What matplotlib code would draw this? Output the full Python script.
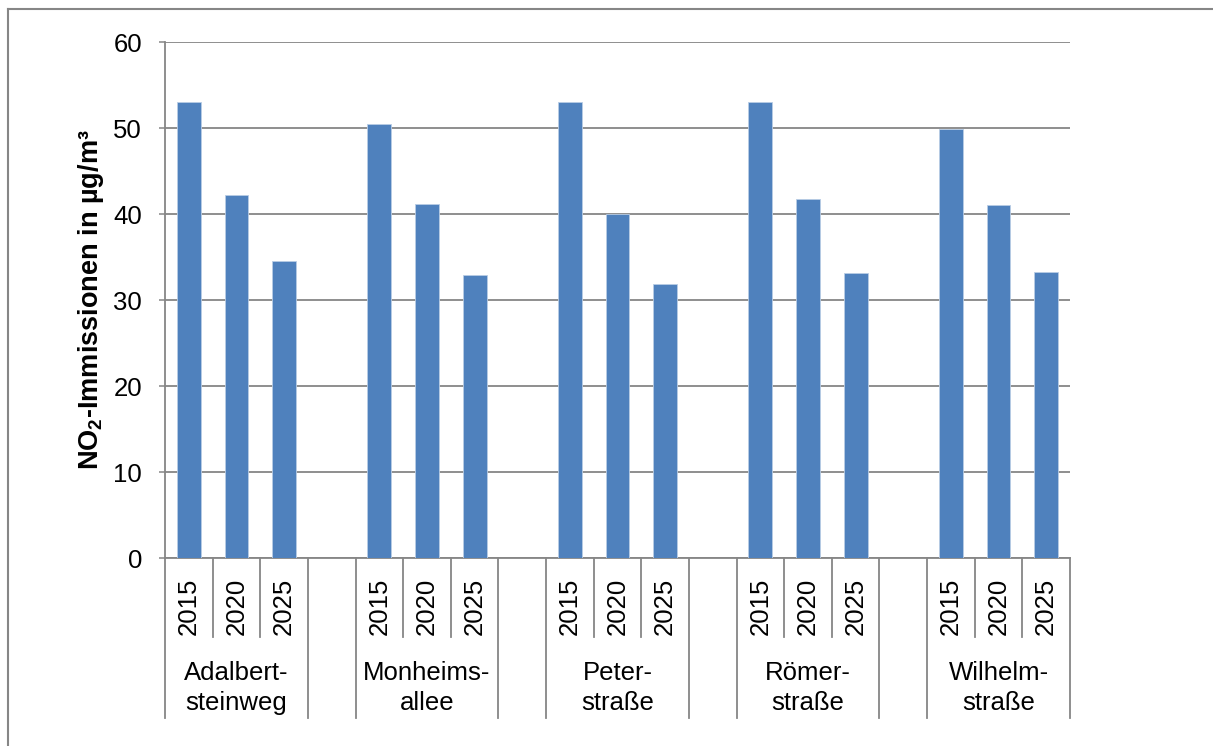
import matplotlib
matplotlib.use('Agg')
import matplotlib.pyplot as plt
import matplotlib.transforms as mtransforms
from matplotlib.lines import Line2D

plt.rcParams['font.family'] = ['Liberation Sans', 'DejaVu Sans']
plt.rcParams['mathtext.fontset'] = 'custom'
plt.rcParams['mathtext.rm'] = 'Liberation Sans'
plt.rcParams['mathtext.bf'] = 'Liberation Sans:bold'

# Daten
strassen = ['Adalbert-\nsteinweg', 'Monheims-\nallee', 'Peter-\nstraße', 'Römer-\nstraße', 'Wilhelm-\nstraße']
jahre = ['2015', '2020', '2025']
werte_2015 = [53.0, 50.5, 53.0, 53.0, 49.9]
werte_2020 = [42.2, 41.2, 40.0, 41.8, 41.0]
werte_2025 = [34.5, 32.9, 31.9, 33.1, 33.3]
y_ticks = [0, 10, 20, 30, 40, 50, 60]

W, H = 1213, 746
fig = plt.figure(figsize=(W / 100, H / 100), dpi=100)
ax = fig.add_axes([165 / W, (H - 558) / H, (1070 - 165) / W, (558 - 42) / H])

grau = '#868686'
blau = '#4F81BD'

# Balken: 4 Slots pro Gruppe (3 Jahre + Lücke)
werte = [werte_2015, werte_2020, werte_2025]
for g in range(len(strassen)):
    for j in range(len(jahre)):
        slot = 4 * g + j
        ax.bar(slot + 0.5, werte[j][g], width=0.5, color=blau,
               edgecolor='#B9CDE5', linewidth=0.6, zorder=3)

n_slots = 4 * len(strassen) - 1
ax.set_xlim(0, n_slots)
ax.set_ylim(0, 60)
ax.set_yticks(y_ticks)
ax.tick_params(axis='y', labelsize=18.5, length=4.5, width=1.1, color=grau, pad=12)
ax.set_xticks([])
ax.yaxis.grid(True, color=grau, linewidth=1.3, zorder=0)
for s in ['top', 'right']:
    ax.spines[s].set_visible(False)
for s in ['left', 'bottom']:
    ax.spines[s].set_color(grau)
    ax.spines[s].set_linewidth(1.3)

ax.set_ylabel(r'NO$_\mathbf{2}$-Immissionen in µg/m³', fontsize=19.5,
              fontweight='bold', labelpad=5)

# mehrstufige Kategorieachse
trans = mtransforms.blended_transform_factory(ax.transData, fig.transFigure)
def fy(py):
    return (H - py) / H

lang = {0, n_slots}
for g in range(len(strassen)):
    lang.add(4 * g)
    lang.add(4 * g + 3)
for x in range(n_slots + 1):
    y_end = 718 if x in lang else 637
    ax.add_line(Line2D([x, x], [fy(558), fy(y_end)], transform=trans,
                       color=grau, linewidth=1.3, clip_on=False))

for g, name in enumerate(strassen):
    for j, jahr in enumerate(jahre):
        ax.text(4 * g + j + 0.5, fy(606), jahr, transform=trans, rotation=90,
                ha='center', va='center', fontsize=18.5)
    z1, z2 = name.split('\n')
    ax.text(4 * g + 1.5, fy(680), z1, transform=trans, ha='center',
            va='baseline', fontsize=18.5)
    ax.text(4 * g + 1.5, fy(710), z2, transform=trans, ha='center',
            va='baseline', fontsize=18.5)

# Rahmen (nur oben und links sichtbar)
fig.add_artist(Line2D([8 / W, 1.0], [fy(9), fy(9)], transform=fig.transFigure,
                      color=grau, linewidth=1.5))
fig.add_artist(Line2D([8 / W, 8 / W], [fy(9), 0.0], transform=fig.transFigure,
                      color=grau, linewidth=1.5))

fig.savefig('out.png', dpi=100)
